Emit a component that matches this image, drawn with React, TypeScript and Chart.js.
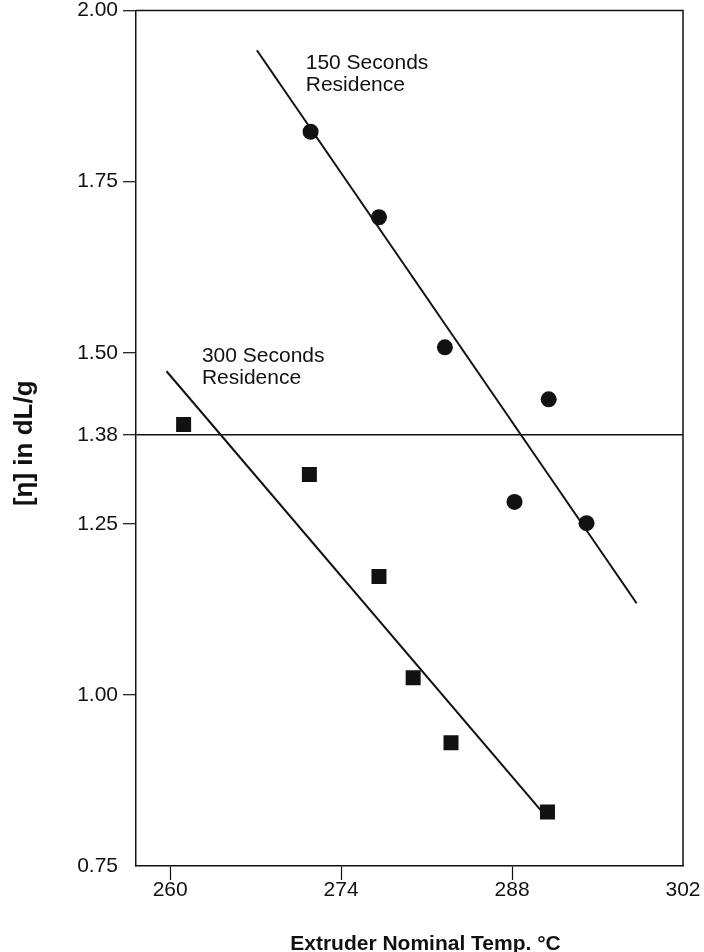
import React, { useEffect, useRef } from 'react';
import { Chart, registerables } from 'chart.js';

Chart.register(...registerables);

// ---- Data ----
const temps150 = [271.5, 277.1, 282.5, 291.0, 288.2, 294.1];
const visc150 = [1.823, 1.698, 1.508, 1.432, 1.282, 1.251];

const temps300 = [261.1, 271.4, 277.1, 279.9, 283.0, 290.9];
const visc300 = [1.395, 1.322, 1.173, 1.025, 0.93, 0.829];

const fit150X = [267.1, 298.2];
const fit150Y = [1.942, 1.134];
const fit300X = [259.7, 290.9];
const fit300Y = [1.473, 0.82];

const xTickValues = [260, 274, 288, 302];
const yTickValues = [0.75, 1.0, 1.25, 1.38, 1.5, 1.75, 2.0];
const referenceLevel = 1.38;

const xMin = 257.2;
const xMax = 302;
const yMin = 0.75;
const yMax = 2.0;

const xTitle = 'Extruder Nominal Temp. °C';
const yTitle = '[η] in dL/g';

const label150 = ['150 Seconds', 'Residence'];
const label300 = ['300 Seconds', 'Residence'];
const label150At = { x: 271.1, y: 1.915 };
const label300At = { x: 262.6, y: 1.487 };

const FONT = '"Liberation Sans", Arial, Helvetica, sans-serif';
const INK = '#111';

const toPts = (xs: number[], ys: number[]) => xs.map((x, i) => ({ x, y: ys[i] }));

const decor = {
  id: 'decor',
  afterDraw(chart: any) {
    const { ctx, chartArea: a, scales } = chart;
    const x = scales.x;
    const y = scales.y;
    ctx.save();
    // top & right frame
    ctx.strokeStyle = INK;
    ctx.lineWidth = 1.5;
    ctx.beginPath();
    ctx.moveTo(a.left, a.top);
    ctx.lineTo(a.right, a.top);
    ctx.lineTo(a.right, a.bottom);
    ctx.stroke();

    // annotations
    ctx.fillStyle = INK;
    ctx.font = `21px ${FONT}`;
    ctx.textAlign = 'left';
    ctx.textBaseline = 'alphabetic';
    const drawLabel = (lines: string[], at: { x: number; y: number }) => {
      const px = x.getPixelForValue(at.x);
      const py = y.getPixelForValue(at.y);
      lines.forEach((t, i) => ctx.fillText(t, px, py + i * 22.5));
    };
    drawLabel(label150, label150At);
    drawLabel(label300, label300At);

    // x axis title
    ctx.font = `bold 21px ${FONT}`;
    ctx.textAlign = 'center';
    ctx.fillText(xTitle, (a.left + a.right) / 2 + 16, 950);

    // y axis title
    ctx.translate(25, (a.top + a.bottom) / 2 + 5);
    ctx.rotate(-Math.PI / 2);
    ctx.textBaseline = 'middle';
    ctx.font = `bold 26px ${FONT}`;
    ctx.fillText(yTitle, 0, 0);
    ctx.restore();
  },
};

export default function App() {
  const ref = useRef<HTMLCanvasElement>(null);

  useEffect(() => {
    const canvas = ref.current;
    if (!canvas) return;
    const chart = new Chart(canvas, {
      type: 'scatter',
      data: {
        datasets: [
          {
            label: '150 Seconds Residence',
            data: toPts(temps150, visc150),
            pointStyle: 'circle',
            pointRadius: 8,
            pointBackgroundColor: INK,
            pointBorderColor: INK,
            pointBorderWidth: 0,
            showLine: false,
          },
          {
            label: '300 Seconds Residence',
            data: toPts(temps300, visc300),
            pointStyle: 'rect',
            pointRadius: 10.6,
            pointBackgroundColor: INK,
            pointBorderColor: INK,
            pointBorderWidth: 0,
            showLine: false,
          },
          {
            label: '150 fit',
            data: toPts(fit150X, fit150Y),
            showLine: true,
            pointRadius: 0,
            borderColor: INK,
            borderWidth: 2,
            fill: false,
          },
          {
            label: '300 fit',
            data: toPts(fit300X, fit300Y),
            showLine: true,
            pointRadius: 0,
            borderColor: INK,
            borderWidth: 2,
            fill: false,
          },
        ],
      },
      options: {
        responsive: false,
        animation: false,
        devicePixelRatio: 1,
        layout: { padding: { top: 10, right: 21, bottom: 0, left: 0 } },
        plugins: {
          legend: { display: false },
          tooltip: { enabled: false },
        },
        scales: {
          x: {
            type: 'linear',
            min: xMin,
            max: xMax,
            afterBuildTicks: (scale: any) => {
              scale.ticks = xTickValues.map((v) => ({ value: v }));
            },
            afterFit: (scale: any) => {
              scale.height = 86;
              scale.paddingLeft = 0;
              scale.paddingRight = 0;
            },
            ticks: {
              color: INK,
              font: { family: FONT, size: 21, lineHeight: 1 },
              padding: 0,
              maxRotation: 0,
              autoSkip: false,
              callback: (v: any) => String(v),
            },
            grid: {
              drawOnChartArea: false,
              color: 'transparent',
              tickColor: (c: any) => (c.tick && c.tick.value === 302 ? 'transparent' : INK),
              tickLength: 14,
              tickWidth: 1.2,
            },
            border: { display: true, color: INK, width: 1.5 },
          },
          y: {
            type: 'linear',
            min: yMin,
            max: yMax,
            afterBuildTicks: (scale: any) => {
              scale.ticks = yTickValues.map((v) => ({ value: v }));
            },
            afterFit: (scale: any) => {
              scale.width = 136;
              scale.paddingTop = 0;
              scale.paddingBottom = 0;
            },
            ticks: {
              color: INK,
              font: { family: FONT, size: 21, lineHeight: 1 },
              padding: 5,
              autoSkip: false,
              callback: (v: any) => Number(v).toFixed(2),
            },
            grid: {
              drawOnChartArea: true,
              color: (c: any) =>
                c.tick && Math.abs(c.tick.value - referenceLevel) < 1e-6 ? INK : 'transparent',
              lineWidth: 1.4,
              tickColor: (c: any) => (c.tick && c.tick.value === 0.75 ? 'transparent' : INK),
              tickLength: 13,
              tickWidth: 1.2,
            },
            border: { display: true, color: INK, width: 1.5 },
          },
        },
      },
      plugins: [decor],
    } as any);
    return () => chart.destroy();
  }, []);

  return (
    <div
      style={{
        position: 'absolute',
        left: 0,
        top: 0,
        width: 704,
        height: 952,
        background: '#fff',
      }}
    >
      <canvas ref={ref} width={704} height={952} style={{ display: 'block', width: 704, height: 952 }} />
    </div>
  );
}
